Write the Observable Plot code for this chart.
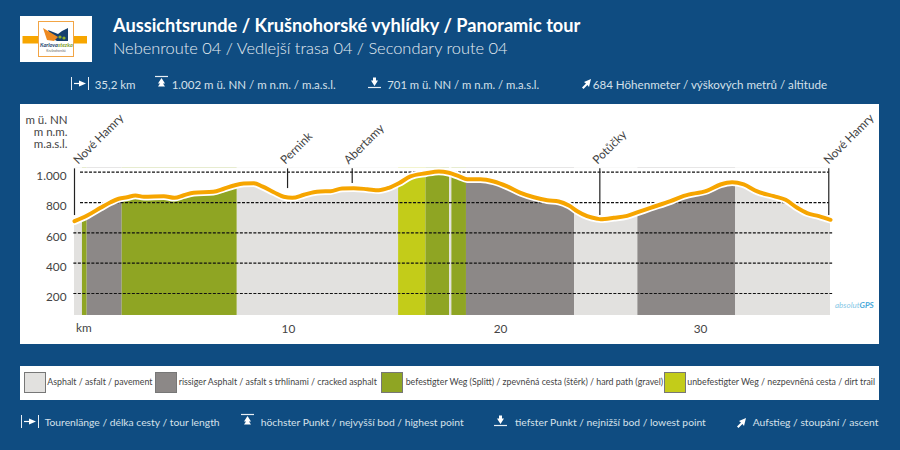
<!DOCTYPE html>
<html><head><meta charset="utf-8">
<script src="https://cdn.jsdelivr.net/npm/d3@7"></script>
<script src="https://cdn.jsdelivr.net/npm/@observablehq/plot@0.6"></script>
<style>
html,body{margin:0;padding:0;background:#0f4c81;width:900px;height:450px;overflow:hidden}
body{position:relative;font-family:Lato,sans-serif}
.t{position:absolute;white-space:nowrap;line-height:1;transform:translateY(-50%)}
.box{position:absolute;background:#fff}
#chart{position:absolute;left:20px;top:104px}
#chart svg{display:block}
svg.ic{position:absolute;overflow:visible}
</style></head><body>
<div class="box" style="left:20px;top:16px;width:72px;height:46px"></div>
<svg class="ic" style="left:20px;top:16px" width="72" height="46">
  <rect x="2.5" y="20" width="64.5" height="7.5" fill="#f7a600"/>
  <rect x="18.5" y="5.5" width="35" height="35" fill="#fff" stroke="#f2a444" stroke-width="1"/>
  <polygon points="28,14 38,18 42,15 48,12 48,25 37,25 31,22" fill="#17406e"/>
  <polygon points="23,12 38,21 34,25 27,24" fill="#ee8a22"/>
  <circle cx="40" cy="21" r="1.6" fill="#8fb02a"/><circle cx="44" cy="22" r="1.6" fill="#8fb02a"/>
  <text x="20" y="31" font-size="5.5" font-weight="700" font-style="italic" fill="#17406e" font-family="Lato">Karlova</text>
  <text x="38" y="31" font-size="5.5" font-weight="700" font-style="italic" fill="#7b9b1e" font-family="Lato">stezka</text>
  <text x="36" y="36" text-anchor="middle" font-size="3.2" fill="#666" font-family="Lato">Krušnohorská</text>
</svg>
<div id="chart"></div>
<div class="box" style="left:20px;top:366px;width:859px;height:34px"></div>
<script>
const navyText = "#d5e0ea";
const title = "Aussichtsrunde / Krušnohorské vyhlídky / Panoramic tour";
const subtitle = "Nebenroute 04 / Vedlejší trasa 04 / Secondary route 04";
const statTexts = ["35,2 km", "1.002 m ü. NN / m n.m. / m.a.s.l.", "701 m ü. NN / m n.m. / m.a.s.l.", "684 Höhenmeter / výškových metrů / altitude"];
const keyTexts = ["Tourenlänge / délka cesty / tour length", "höchster Punkt / nejvyšší bod / highest point", "tiefster Punkt / nejnižší bod / lowest point", "Aufstieg / stoupání / ascent"];
const surfaces = ["Asphalt / asfalt / pavement", "rissiger Asphalt / asfalt s trhlinami / cracked asphalt", "befestigter Weg (Splitt) / zpevněná cesta (štěrk) / hard path (gravel)", "unbefestigter Weg / nezpevněná cesta / dirt trail"];
const surfaceColors = ["#e2e1df", "#8c8887", "#8fa523", "#c3cc19"];

const profileKm = [0,0.59,1.21,1.68,2.06,2.45,2.84,3.23,4.16,4.66,5.09,5.55,6.46,6.95,7.42,7.88,8.35,8.74,9.28,9.74,10.14,10.68,11.14,11.45,11.92,12.46,13,13.63,14.17,14.64,15.1,15.64,16.36,16.96,17.43,17.89,18.28,18.9,19.52,20.15,20.77,21.39,22.01,22.55,23.02,23.41,23.87,24.34,24.49,25.11,25.73,26.23,26.82,27.75,28.37,29.46,30.08,30.62,31.16,31.79,32.56,33.11,33.65,34.11,34.66,35.2];
const profileElev = [677,714,765,802,825,835,846,838,842,831,848,864,871,891,912,925,927,906,868,838,831,851,868,873,875,893,894,888,881,897,927,972,993,1005,996,974,954,954,939,906,864,835,815,807,780,743,710,693,690,699,712,736,765,809,844,879,919,934,919,873,842,818,765,730,710,686];
const segStart = [0,0.37,0.59,2.22,7.58,15.09,16.36,17.47,17.57,18.25,23.29,26.23,30.79];
const segEnd = [0.37,0.59,2.22,7.58,15.09,16.36,17.47,17.57,18.25,23.29,26.23,30.79,35.2];
const segType = [0,2,1,2,0,3,2,0,2,1,0,1,0];
const placeNames = ["Nové Hamry","Pernink","Abertamy","Potůčky","Nové Hamry"];
const placeKm = [0,9.92,12.93,24.46,35.12];
const placeLabelKm = [0.19,9.83,12.79,24.37,35.12];
const placeFoot = [714,892,925,714,714];
const gridFull = [600,400,200];
const gridShort = [1000,800];
const yTicks = [1000,800,600,400,200];
const xTickKm = [9.96,19.84,29.15];
const xTickLabels = ["10","20","30"];
const baseElev = 55, topElev = 1030, markTop = 1022, labelElev = 1066;

const profile = profileKm.map((km,i)=>({km,e:profileElev[i]}));
const segments = segStart.map((s,i)=>({s,t:segEnd[i],surface:surfaces[segType[i]]}));
const places = placeNames.map((name,i)=>({name,km:placeKm[i],lab:placeLabelKm[i],foot:placeFoot[i]}));

const plot = Plot.plot({
  width:859,height:240,marginLeft:54,marginRight:49,marginTop:60,marginBottom:29,
  style:{background:"#fff",fontFamily:"Lato",fontSize:"12px",color:"#444"},
  x:{domain:[0,35.2],range:[54,810]},
  y:{domain:[200,1000],range:[189,67.7]},
  color:{domain:surfaces,range:surfaceColors},
  marks:[
    Plot.rectY(segments,{x1:"s",x2:"t",y1:baseElev,y2:topElev,fill:"surface"}),
    Plot.areaY(profile,{x:"km",y1:"e",y2:topElev,fill:"#fff",curve:"monotone-x"}),
    Plot.ruleY(gridFull,{x1:-0.03,x2:35.3,stroke:"#111",strokeWidth:1.2,strokeDasharray:"3,1.5"}),
    Plot.ruleY(gridShort,{x1:0.28,x2:35.15,stroke:"#111",strokeWidth:1.2,strokeDasharray:"3,1.5"}),
    Plot.ruleX(places,{x:"km",y1:markTop,y2:"foot",stroke:"#222",strokeWidth:1.2}),
    Plot.line(profile,{x:"km",y:"e",stroke:"#fff",strokeWidth:7.5,curve:"monotone-x"}),
    Plot.line(profile,{x:"km",y:"e",stroke:"#f6a500",strokeWidth:4,curve:"monotone-x"}),
    Plot.text(places,{x:"lab",y:labelElev,text:"name",rotate:-45,textAnchor:"start",fill:"#444",fontSize:11.8,dx:-3}),
    Plot.axisY(yTicks,{anchor:"left",tickSize:0,tickPadding:8,dy:4,label:null,fill:"#444",fontSize:11.8,tickFormat:d=>d3.format(",")(d).replace(",",".")}),
    Plot.axisX(xTickKm,{anchor:"bottom",tickSize:0,tickPadding:9,label:null,fill:"#444",fontSize:11.8,tickFormat:(d,i)=>xTickLabels[i]}),
    Plot.text(["km"],{frameAnchor:"bottom-left",dx:1.5,dy:16,text:d=>d,textAnchor:"start",fill:"#444",fontSize:11.8})
  ]
});
document.getElementById("chart").appendChild(plot);

function T(txt,left,cy,size,color,extra){
  const d=document.createElement("div");d.className="t";d.textContent=txt;
  d.style.left=left+"px";d.style.top=cy+"px";d.style.fontSize=size+"px";d.style.color=color;
  if(extra)Object.assign(d.style,extra);document.body.appendChild(d);return d;
}
T(title,113,25,18.2,"#fff",{fontWeight:700});
T(subtitle,113,47.5,16.4,"#e6edf3",{fontWeight:300});
T(statTexts[0],94.7,85,11.5,navyText);
T(statTexts[1],171.7,85,11.5,navyText);
T(statTexts[2],387.3,85,11.3,navyText);
T(statTexts[3],592.7,85,11.6,navyText);
T(keyTexts[0],44.7,421.5,10.3,navyText);
T(keyTexts[1],260.7,421.5,10.3,navyText);
T(keyTexts[2],515,421.5,10.3,navyText);
T(keyTexts[3],752.7,421.5,10.3,navyText);
["m ü. NN","m n.m.","m.a.s.l."].forEach((u,i)=>{
  const el=T(u,0,120+i*12.2,11.5,"#444");el.style.left="auto";el.style.right=(900-67.5)+"px";
});
const gps=T("",835,304.5,8,"#86c8e6",{fontStyle:"italic"});
gps.innerHTML='absolut<b style="color:#3fa6d8">GPS</b>';
const swX=[24,155,381,664], lgX=[47.3,178.7,405.7,687.3];
surfaces.forEach((s,i)=>{
  const b=document.createElement("div");
  Object.assign(b.style,{position:"absolute",left:swX[i]+"px",top:"372px",width:"20px",height:"18.5px",background:surfaceColors[i],border:"1px solid #777"});
  document.body.appendChild(b);
  T(s,lgX[i],382,8.8,"#444");
});
const NS="http://www.w3.org/2000/svg";
function icon(x,y,w,h,html){
  const s=document.createElementNS(NS,"svg");s.setAttribute("class","ic");s.setAttribute("width",w);s.setAttribute("height",h);
  s.style.left=x+"px";s.style.top=y+"px";s.innerHTML=html;document.body.appendChild(s);
}
const c="#e8eef4";
const lenI=`<path d="M0.5 0V13M17.5 0V13" stroke="${c}" stroke-width="1"/><path d="M3 6.5H9" stroke="#fff" stroke-width="1.2"/><polygon points="8,3.5 15,6.5 8,9.5" fill="#fff"/>`;
const hiI=`<path d="M0 0.5H13" stroke="${c}" stroke-width="1.2"/><polygon points="6.5,2 10,7.5 8,7.5 10,10.5 3,10.5 5,7.5 3,7.5" fill="#fff"/>`;
const loI=`<polygon points="6.5,9 10,3.5 8,3.5 8,0.5 5,0.5 5,3.5 3,3.5" fill="#fff"/><path d="M0 10.5H13" stroke="${c}" stroke-width="1.2"/>`;
const upI=`<polygon points="9,0 7,8 5.4,6 1.5,10 0,8.6 4,4.6 2,3" fill="#fff"/>`;
icon(71,77,18,13,lenI);icon(155,76,13,12,hiI);icon(368,76.5,13,12,loI);icon(581.5,79,10,10,upI);
icon(21,414.5,18,13,lenI);icon(241,414,13,12,hiI);icon(494,414.5,13,12,loI);icon(736.5,418,10,10,upI);
</script>
</body></html>
